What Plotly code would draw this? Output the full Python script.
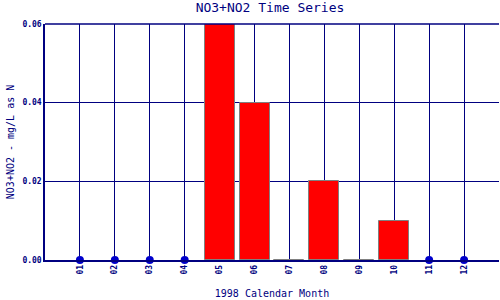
import plotly.graph_objects as go

months = [1, 2, 3, 4, 5, 6, 7, 8, 9, 10, 11, 12]
month_labels = ["01", "02", "03", "04", "05", "06", "07", "08", "09", "10", "11", "12"]
bar_months = [5, 6, 7, 8, 9, 10]
bar_values = [0.06, 0.04, 0.0, 0.02, 0.0, 0.01]
dot_months = [1, 2, 3, 4, 11, 12]
dot_values = [0.0, 0.0, 0.0, 0.0, 0.0, 0.0]
y_ticks = [0.0, 0.02, 0.04, 0.06]
y_tick_labels = ["0.00", "0.02", "0.04", "0.06"]

navy = "#000080"
font = "DejaVu Sans Mono"

fig = go.Figure()
fig.add_trace(go.Bar(
    x=bar_months, y=bar_values, width=0.86,
    marker=dict(color="#FF0000", line=dict(color="#808080", width=1)),
    showlegend=False,
))
fig.add_trace(go.Scatter(
    x=dot_months, y=dot_values, mode="markers",
    marker=dict(color="#0000CC", size=8), showlegend=False, cliponaxis=False,
))

fig.update_layout(
    width=500, height=300,
    margin=dict(l=45, r=1, t=24, b=40),
    paper_bgcolor="white", plot_bgcolor="white",
    title=dict(text="NO3+NO2 Time Series", x=0.54, xanchor="center", y=0.975, yanchor="middle",
               font=dict(family=font, size=13, color=navy)),
    font=dict(family=font, color=navy),
    xaxis=dict(
        range=[0, 13], tickmode="array", tickvals=months, ticktext=month_labels,
        tickangle=-90, tickfont=dict(size=8, color=navy, weight="bold"),
        showgrid=True, gridcolor=navy, gridwidth=1,
        showline=True, linecolor=navy, linewidth=1.5, mirror=False,
        zeroline=False, ticks="",
        title=dict(text="1998 Calendar Month", font=dict(size=10, color=navy), standoff=16),
    ),
    yaxis=dict(
        range=[0, 0.06], tickmode="array", tickvals=y_ticks, ticktext=y_tick_labels,
        tickfont=dict(size=8, color=navy, weight="bold"),
        showgrid=True, gridcolor=navy, gridwidth=1,
        showline=True, linecolor=navy, linewidth=1.5,
        zeroline=False, ticks="",
        title=dict(text="NO3+NO2 - mg/L as N", font=dict(size=10, color=navy), standoff=6),
    ),
    bargap=0,
)
fig.add_shape(type="line", xref="paper", yref="paper", x0=0, x1=1, y0=1, y1=1,
              line=dict(color=navy, width=1.5))

fig.write_html("out.html")
